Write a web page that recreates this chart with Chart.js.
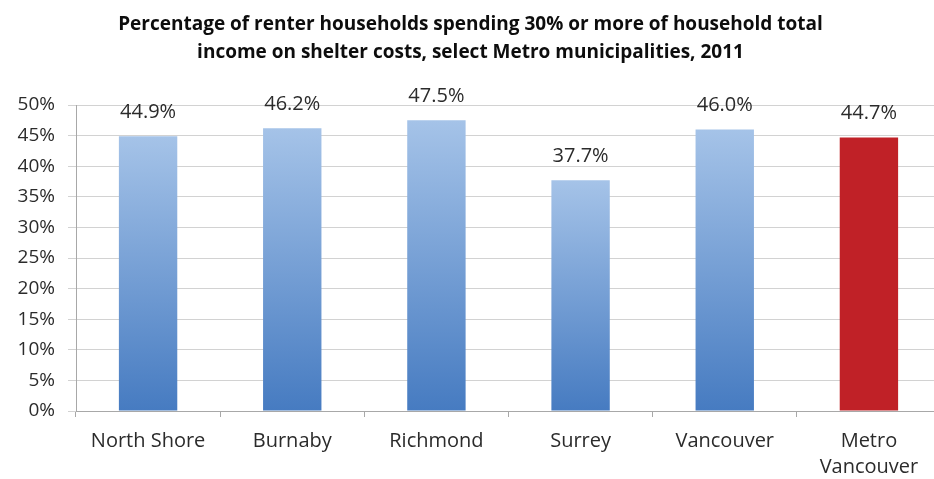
<!DOCTYPE html>
<html>
<head>
<meta charset="utf-8">
<script src="https://cdn.jsdelivr.net/npm/chart.js@4.4.1/dist/chart.umd.min.js"></script>
<style>
  html, body { margin: 0; padding: 0; background: #fff; overflow: hidden; }
  #wrap { width: 941px; height: 479px; }
</style>
</head>
<body>
<div id="wrap"><canvas id="rentChart"></canvas></div>
<script>
// renter households spending 30%+ of income on shelter, 2011
const places = ['North Shore', 'Burnaby', 'Richmond', 'Surrey', 'Vancouver', ['Metro', 'Vancouver']];
const shares = [44.9, 46.2, 47.5, 37.7, 46.0, 44.7];
const yTicks = [0, 5, 10, 15, 20, 25, 30, 35, 40, 45, 50];

const FONT = "'Open Sans', sans-serif";
const TEXT = '#2b2b2b';

function barFill(ctx) {
  const chart = ctx.chart;
  if (ctx.dataIndex === shares.length - 1) return '#c02127';
  const y = chart.scales && chart.scales.y;
  if (!chart.chartArea || !y) return '#6f9bd4';
  const top = y.getPixelForValue(shares[ctx.dataIndex]);
  const bottom = y.getPixelForValue(0);
  const g = chart.ctx.createLinearGradient(0, top, 0, bottom);
  g.addColorStop(0, '#a5c3e8');
  g.addColorStop(1, '#467bc1');
  return g;
}

// value labels above each bar
const valueLabels = {
  id: 'valueLabels',
  afterDatasetsDraw(chart) {
    const c = chart.ctx;
    const meta = chart.getDatasetMeta(0);
    c.save();
    c.font = '20px ' + FONT;
    c.fillStyle = TEXT;
    c.textAlign = 'center';
    c.textBaseline = 'middle';
    meta.data.forEach((bar, i) => {
      c.fillText(shares[i].toFixed(1) + '%', bar.x, bar.y - 24);
    });
    c.restore();
  }
};

new Chart(document.getElementById('rentChart'), {
  type: 'bar',
  data: {
    labels: places,
    datasets: [{
      data: shares,
      backgroundColor: barFill,
      borderWidth: 0,
      categoryPercentage: 1,
      barPercentage: 0.405
    }]
  },
  options: {
    responsive: true,
    maintainAspectRatio: false,
    animation: false,
    layout: { padding: { left: 0, right: 0, top: 0, bottom: -12 } },
    plugins: {
      legend: { display: false },
      tooltip: { enabled: false },
      title: {
        display: true,
        text: ['Percentage of renter households spending 30% or more of household total',
               'income on shelter costs, select Metro municipalities, 2011'],
        color: '#0d0d0d',
        font: { family: FONT, size: 19, weight: 'bold', lineHeight: '28px' },
        padding: { top: 11, bottom: 38 }
      }
    },
    scales: {
      x: {
        grid: { display: true, drawOnChartArea: false, offset: true, tickLength: 6, color: '#a8a8a8' },
        border: { color: '#a8a8a8' },
        ticks: { color: TEXT, padding: 11, font: { family: FONT, size: 20, lineHeight: '26px' }, maxRotation: 0, autoSkip: false }
      },
      y: {
        min: 0,
        max: 50,
        afterBuildTicks(axis) { axis.ticks = yTicks.map(v => ({ value: v })); },
        afterFit(axis) { axis.width = 76; },
        grid: { color: '#d2d2d2', tickLength: 8 },
        border: { color: '#a8a8a8' },
        ticks: { color: TEXT, padding: 13, font: { family: FONT, size: 19 }, callback: v => v + '%' }
      }
    }
  },
  plugins: [valueLabels]
});
</script>
</body>
</html>
